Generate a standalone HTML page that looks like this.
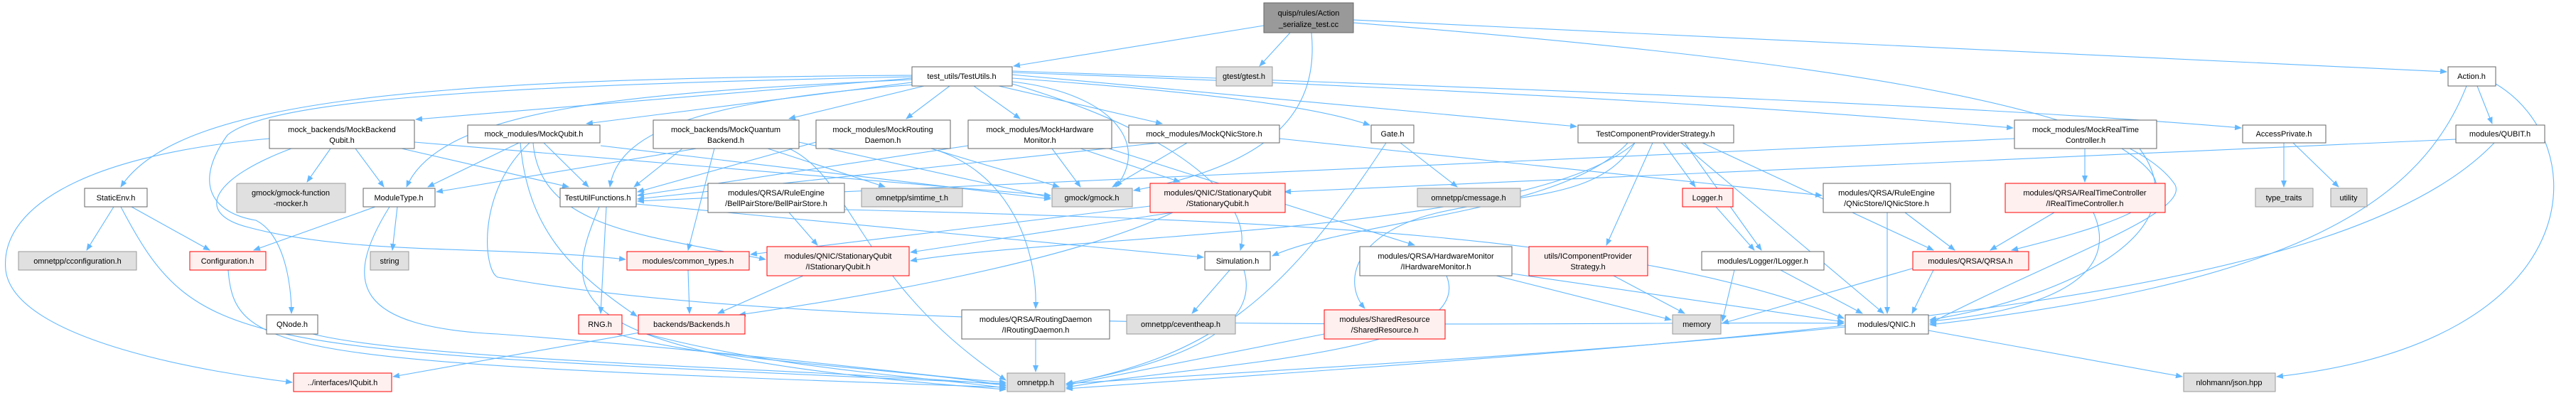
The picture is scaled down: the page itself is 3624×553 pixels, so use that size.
<!DOCTYPE html>
<html><head><meta charset="utf-8"><style>
html,body{margin:0;padding:0;background:#fff;}
svg{display:block;}
text{font-family:"Liberation Sans",Arial,sans-serif;font-size:11px;fill:#000;}
.e{fill:none;stroke:#63b8ff;stroke-width:1.1;marker-end:url(#a);}
.w{fill:#fff;stroke:#666;stroke-width:1;}
.g{fill:#e0e0e0;stroke:#999;stroke-width:1;}
.r{fill:#fff0f0;stroke:#ff0000;stroke-width:1;}
.root{fill:#999;stroke:#666;stroke-width:1;}
</style></head><body>
<svg width="3624" height="553" viewBox="0 0 3624 553" xmlns="http://www.w3.org/2000/svg">
<defs><marker id="a" markerWidth="10" markerHeight="8" refX="9" refY="4" orient="auto" markerUnits="userSpaceOnUse"><path d="M0,0 L10,4 L0,8 z" fill="#63b8ff"/></marker></defs>
<g>
<path class="e" d="M1778,36 L1426,93"/>
<path class="e" d="M1815,46 L1772,93"/>
<path class="e" d="M1904,28 C2600,60 3300,90 3442,101"/>
<path class="e" d="M1845,46 C1855,150 1800,230 1595,268"/>
<path class="e" d="M1904,32 C2500,80 2980,140 3060,260 C3080,300 2900,360 2715,455"/>
<path class="e" d="M1283,106 C600,110 250,140 170,263"/>
<path class="e" d="M1283,110 L585,168"/>
<path class="e" d="M1290,115 L825,174"/>
<path class="e" d="M1300,121 L1110,167"/>
<path class="e" d="M1336,121 L1275,167"/>
<path class="e" d="M1370,121 L1435,167"/>
<path class="e" d="M1405,121 L1635,174"/>
<path class="e" d="M1424,110 C1700,130 1850,150 1927,176"/>
<path class="e" d="M1424,105 L2218,178"/>
<path class="e" d="M1424,102 C2200,130 2600,160 2832,180"/>
<path class="e" d="M1424,100 C2300,130 2800,150 3153,180"/>
<path class="e" d="M1283,112 C900,130 620,150 572,263"/>
<path class="e" d="M1300,118 C1000,140 870,180 858,263"/>
<path class="e" d="M1283,108 C700,120 380,140 320,190 C270,260 300,300 360,310 C400,330 410,400 410,441"/>
<path class="e" d="M1424,115 C1560,130 1620,200 1570,263"/>
<path class="e" d="M1424,118 C1700,200 1760,300 1745,352"/>
<path class="e" d="M465,209 L432,256"/>
<path class="e" d="M500,209 L540,263"/>
<path class="e" d="M565,209 L800,263"/>
<path class="e" d="M379,195 C100,220 0,300 8,380 C20,480 300,525 411,538"/>
<path class="e" d="M410,209 C300,250 270,300 350,320 C500,360 700,345 880,365"/>
<path class="e" d="M583,200 L1478,275"/>
<path class="e" d="M730,201 L602,263"/>
<path class="e" d="M765,201 L828,263"/>
<path class="e" d="M845,205 L1478,280"/>
<path class="e" d="M750,201 C760,320 900,330 1077,365"/>
<path class="e" d="M745,201 C670,270 680,380 700,390 C1200,480 2300,450 2594,455"/>
<path class="e" d="M732,201 C742,320 800,380 896,445"/>
<path class="e" d="M980,209 L614,270"/>
<path class="e" d="M960,209 L892,263"/>
<path class="e" d="M1005,209 L968,352"/>
<path class="e" d="M1124,200 L1478,278"/>
<path class="e" d="M1080,209 L1245,263"/>
<path class="e" d="M1110,209 C1200,250 1210,400 1415,535"/>
<path class="e" d="M1310,209 L1490,263"/>
<path class="e" d="M1310,209 C1420,240 1460,350 1457,434"/>
<path class="e" d="M1148,200 L897,270"/>
<path class="e" d="M1480,209 L1520,263"/>
<path class="e" d="M1520,209 L1660,256"/>
<path class="e" d="M1362,205 L897,275"/>
<path class="e" d="M1560,209 L1990,345"/>
<path class="e" d="M1670,201 L1565,263"/>
<path class="e" d="M1800,195 L2563,275"/>
<path class="e" d="M1630,201 L897,280"/>
<path class="e" d="M1950,201 C1800,430 1700,500 1500,540"/>
<path class="e" d="M1970,201 L2050,263"/>
<path class="e" d="M2340,201 L2385,263"/>
<path class="e" d="M2370,201 L2478,352"/>
<path class="e" d="M2325,201 L2260,345"/>
<path class="e" d="M2300,201 C2250,280 2150,270 2020,300 C1900,330 1890,400 1920,434"/>
<path class="e" d="M2290,201 C2200,300 1900,310 1790,360"/>
<path class="e" d="M2365,201 L2650,441"/>
<path class="e" d="M2300,201 C2150,330 1500,330 1281,367"/>
<path class="e" d="M2395,201 L2720,352"/>
<path class="e" d="M2933,209 L2933,256"/>
<path class="e" d="M2985,209 C3080,270 3040,300 2830,352"/>
<path class="e" d="M3010,209 C3100,330 2900,420 2715,450"/>
<path class="e" d="M2834,195 L897,283"/>
<path class="e" d="M3213,201 L3213,263"/>
<path class="e" d="M3226,201 L3290,263"/>
<path class="e" d="M3485,121 L3506,174"/>
<path class="e" d="M3470,121 C3400,300 3200,400 2715,457"/>
<path class="e" d="M3511,118 C3650,200 3650,480 3203,530"/>
<path class="e" d="M3455,196 L1807,270"/>
<path class="e" d="M3509,201 C3300,420 2600,470 1500,547"/>
<path class="e" d="M160,291 L122,352"/>
<path class="e" d="M185,291 L295,352"/>
<path class="e" d="M170,291 C280,500 330,490 1415,540"/>
<path class="e" d="M528,291 L357,352"/>
<path class="e" d="M559,291 L552,352"/>
<path class="e" d="M548,291 C480,400 500,460 700,470 C1100,500 1300,530 1415,538"/>
<path class="e" d="M321,380 C330,500 400,510 1415,545"/>
<path class="e" d="M440,470 C600,510 1200,520 1415,542"/>
<path class="e" d="M853,291 L845,441"/>
<path class="e" d="M843,291 C790,420 770,500 1415,548"/>
<path class="e" d="M868,470 C1000,510 1300,520 1415,543"/>
<path class="e" d="M900,468 L553,530"/>
<path class="e" d="M910,470 C1100,520 1300,530 1415,546"/>
<path class="e" d="M968,380 L970,441"/>
<path class="e" d="M1130,388 L1010,441"/>
<path class="e" d="M1650,299 L1281,355"/>
<path class="e" d="M1650,299 C1500,370 1200,420 1040,443"/>
<path class="e" d="M1618,290 L1056,358"/>
<path class="e" d="M1110,299 L1150,345"/>
<path class="e" d="M1188,295 C1800,310 2300,330 2594,448"/>
<path class="e" d="M895,287 L1693,362"/>
<path class="e" d="M1730,380 L1677,441"/>
<path class="e" d="M1750,380 C1780,480 1600,520 1500,540"/>
<path class="e" d="M1457,477 L1457,523"/>
<path class="e" d="M2105,388 L2351,450"/>
<path class="e" d="M2127,385 L2594,453"/>
<path class="e" d="M2035,388 C2080,500 1700,510 1500,545"/>
<path class="e" d="M2270,388 L2370,441"/>
<path class="e" d="M2440,380 L2423,452"/>
<path class="e" d="M2505,380 L2620,441"/>
<path class="e" d="M2414,291 L2468,352"/>
<path class="e" d="M2655,299 L2655,441"/>
<path class="e" d="M2680,299 L2750,352"/>
<path class="e" d="M2890,299 L2800,352"/>
<path class="e" d="M2945,299 C2990,400 2850,440 2715,452"/>
<path class="e" d="M2720,380 L2690,441"/>
<path class="e" d="M2700,375 L2423,455"/>
<path class="e" d="M2596,460 C2200,500 1800,520 1500,540"/>
<path class="e" d="M2713,465 L3070,530"/>
<path class="e" d="M1863,470 L1500,542"/>
</g>
<g text-anchor="middle">
<rect class="root" x="1778" y="4" width="126" height="42"/><text x="1841" y="22">quisp/rules/Action</text><text x="1841" y="38">_serialize_test.cc</text>
<rect class="w" x="1283" y="94" width="141" height="27"/><text x="1353" y="111">test_utils/TestUtils.h</text>
<rect class="g" x="1711" y="94" width="79" height="27"/><text x="1750" y="111">gtest/gtest.h</text>
<rect class="w" x="3444" y="94" width="67" height="27"/><text x="3477" y="111">Action.h</text>
<rect class="w" x="379" y="169" width="204" height="40"/><text x="481" y="186">mock_backends/MockBackend</text><text x="481" y="201">Qubit.h</text>
<rect class="w" x="658" y="176" width="186" height="25"/><text x="751" y="192">mock_modules/MockQubit.h</text>
<rect class="w" x="919" y="169" width="205" height="40"/><text x="1021" y="186">mock_backends/MockQuantum</text><text x="1021" y="201">Backend.h</text>
<rect class="w" x="1148" y="169" width="189" height="40"/><text x="1242" y="186">mock_modules/MockRouting</text><text x="1242" y="201">Daemon.h</text>
<rect class="w" x="1362" y="169" width="202" height="40"/><text x="1463" y="186">mock_modules/MockHardware</text><text x="1463" y="201">Monitor.h</text>
<rect class="w" x="1588" y="176" width="212" height="25"/><text x="1694" y="192">mock_modules/MockQNicStore.h</text>
<rect class="w" x="1929" y="176" width="60" height="25"/><text x="1959" y="192">Gate.h</text>
<rect class="w" x="2220" y="176" width="219" height="25"/><text x="2329" y="192">TestComponentProviderStrategy.h</text>
<rect class="w" x="2834" y="169" width="200" height="40"/><text x="2934" y="186">mock_modules/MockRealTime</text><text x="2934" y="201">Controller.h</text>
<rect class="w" x="3155" y="176" width="117" height="25"/><text x="3213" y="192">AccessPrivate.h</text>
<rect class="w" x="3455" y="176" width="125" height="25"/><text x="3517" y="192">modules/QUBIT.h</text>
<rect class="w" x="119" y="265" width="88" height="26"/><text x="163" y="282">StaticEnv.h</text>
<rect class="g" x="333" y="258" width="153" height="41"/><text x="409" y="275">gmock/gmock-function</text><text x="409" y="290">-mocker.h</text>
<rect class="w" x="511" y="265" width="101" height="26"/><text x="561" y="282">ModuleType.h</text>
<rect class="w" x="788" y="265" width="107" height="26"/><text x="841" y="282">TestUtilFunctions.h</text>
<rect class="w" x="996" y="258" width="192" height="41"/><text x="1092" y="275">modules/QRSA/RuleEngine</text><text x="1092" y="290">/BellPairStore/BellPairStore.h</text>
<rect class="g" x="1212" y="265" width="142" height="26"/><text x="1283" y="282">omnetpp/simtime_t.h</text>
<rect class="g" x="1480" y="265" width="113" height="26"/><text x="1536" y="282">gmock/gmock.h</text>
<rect class="r" x="1618" y="258" width="190" height="41"/><text x="1713" y="275">modules/QNIC/StationaryQubit</text><text x="1713" y="290">/StationaryQubit.h</text>
<rect class="g" x="1994" y="265" width="145" height="26"/><text x="2066" y="282">omnetpp/cmessage.h</text>
<rect class="r" x="2367" y="265" width="71" height="26"/><text x="2402" y="282">Logger.h</text>
<rect class="w" x="2565" y="258" width="179" height="41"/><text x="2654" y="275">modules/QRSA/RuleEngine</text><text x="2654" y="290">/QNicStore/IQNicStore.h</text>
<rect class="r" x="2821" y="258" width="225" height="41"/><text x="2933" y="275">modules/QRSA/RealTimeController</text><text x="2933" y="290">/IRealTimeController.h</text>
<rect class="g" x="3173" y="265" width="81" height="26"/><text x="3213" y="282">type_traits</text>
<rect class="g" x="3279" y="265" width="51" height="26"/><text x="3304" y="282">utility</text>
<rect class="g" x="26" y="354" width="166" height="26"/><text x="109" y="371">omnetpp/cconfiguration.h</text>
<rect class="r" x="267" y="354" width="107" height="26"/><text x="320" y="371">Configuration.h</text>
<rect class="g" x="521" y="354" width="54" height="26"/><text x="548" y="371">string</text>
<rect class="r" x="882" y="354" width="172" height="26"/><text x="968" y="371">modules/common_types.h</text>
<rect class="r" x="1079" y="347" width="200" height="41"/><text x="1179" y="364">modules/QNIC/StationaryQubit</text><text x="1179" y="379">/IStationaryQubit.h</text>
<rect class="w" x="1695" y="354" width="92" height="26"/><text x="1741" y="371">Simulation.h</text>
<rect class="w" x="1913" y="347" width="214" height="41"/><text x="2020" y="364">modules/QRSA/HardwareMonitor</text><text x="2020" y="379">/IHardwareMonitor.h</text>
<rect class="r" x="2151" y="347" width="167" height="41"/><text x="2234" y="364">utils/IComponentProvider</text><text x="2234" y="379">Strategy.h</text>
<rect class="w" x="2394" y="354" width="172" height="26"/><text x="2480" y="371">modules/Logger/ILogger.h</text>
<rect class="r" x="2691" y="354" width="163" height="26"/><text x="2772" y="371">modules/QRSA/QRSA.h</text>
<rect class="w" x="375" y="443" width="72" height="27"/><text x="411" y="460">QNode.h</text>
<rect class="r" x="814" y="443" width="61" height="27"/><text x="844" y="460">RNG.h</text>
<rect class="r" x="898" y="443" width="150" height="27"/><text x="973" y="460">backends/Backends.h</text>
<rect class="w" x="1353" y="436" width="208" height="41"/><text x="1457" y="453">modules/QRSA/RoutingDaemon</text><text x="1457" y="468">/IRoutingDaemon.h</text>
<rect class="g" x="1585" y="443" width="153" height="27"/><text x="1661" y="460">omnetpp/ceventheap.h</text>
<rect class="r" x="1863" y="436" width="170" height="41"/><text x="1948" y="453">modules/SharedResource</text><text x="1948" y="468">/SharedResource.h</text>
<rect class="g" x="2353" y="443" width="68" height="27"/><text x="2387" y="460">memory</text>
<rect class="w" x="2596" y="443" width="117" height="27"/><text x="2654" y="460">modules/QNIC.h</text>
<rect class="r" x="413" y="525" width="138" height="26"/><text x="482" y="542">../interfaces/IQubit.h</text>
<rect class="g" x="1417" y="525" width="81" height="26"/><text x="1457" y="542">omnetpp.h</text>
<rect class="g" x="3072" y="525" width="129" height="26"/><text x="3136" y="542">nlohmann/json.hpp</text>
</g>
</svg>
</body></html>
